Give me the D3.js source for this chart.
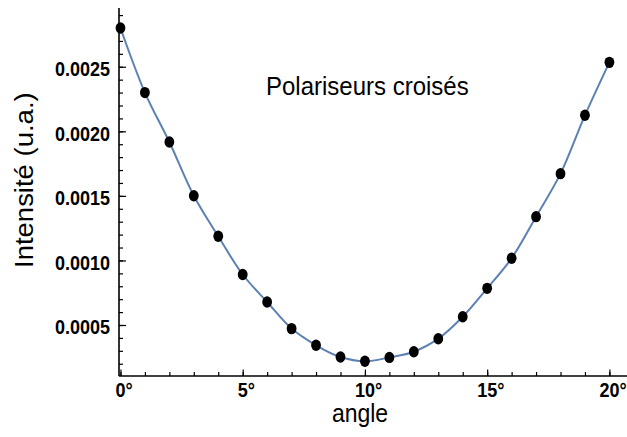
<!DOCTYPE html>
<html>
<head>
<meta charset="utf-8">
<script src="https://cdn.jsdelivr.net/npm/d3@7/dist/d3.min.js"></script>
<style>
  html, body { margin: 0; padding: 0; background: #fff; }
  svg { display: block; }
  text { font-family: "Liberation Sans", Arial, sans-serif; fill: #000; }
</style>
</head>
<body>
<svg id="chart" width="627" height="437"></svg>
<script>
// Measured intensity versus analyser angle (crossed polarisers)
const angles = [0, 1, 2, 3, 4, 5, 6, 7, 8, 9, 10, 11, 12, 13, 14, 15, 16, 17, 18, 19, 20];
const intensity = [0.00280, 0.00230, 0.001917, 0.001501, 0.001187, 0.000891, 0.000678,
  0.000472, 0.000343, 0.000252, 0.000219, 0.000249, 0.000293, 0.000394, 0.000564,
  0.000784, 0.001017, 0.001339, 0.001672, 0.002124, 0.002534];

const xMajorTicks = [0, 5, 10, 15, 20];
const xMinorTicks = d3.range(0, 21, 1);
const yMajorTicks = [0.0005, 0.0010, 0.0015, 0.0020, 0.0025];
const yMinorTicks = d3.range(2, 30).map(d => d / 10000);
const yTickLabels = ["0.0005", "0.0010", "0.0015", "0.0020", "0.0025"];

const title = "Polariseurs croisés";
const xLabel = "angle";
const yLabel = "Intensité (u.a.)";

const svg = d3.select("#chart");
const x = d3.scaleLinear().domain([-0.06, 20.72]).range([119, 627]);
const y = d3.scaleLinear().domain([0.000105, 0.002955]).range([376, 8]);
const vs = 1.1; // vertical text stretch

// axes (ticks point inwards)
const gx = svg.append("g").attr("transform", `translate(0,${y.range()[0]})`);
gx.call(d3.axisBottom(x).tickValues(xMinorTicks).tickSize(-4).tickFormat(""));
gx.call(g => g.append("g").call(d3.axisBottom(x).tickValues(xMajorTicks).tickSize(-6.5).tickFormat("")));
const gy = svg.append("g").attr("transform", `translate(${x.range()[0]},0)`);
gy.call(d3.axisLeft(y).tickValues(yMinorTicks).tickSize(-4).tickFormat(""));
gy.call(g => g.append("g").call(d3.axisLeft(y).tickValues(yMajorTicks).tickSize(-7).tickFormat("")));
svg.selectAll(".domain").remove();
svg.selectAll(".tick line").attr("stroke", "#000").attr("stroke-width", 1.2);

svg.append("line").attr("x1", x.range()[0]).attr("x2", x.range()[1])
  .attr("y1", y.range()[0]).attr("y2", y.range()[0]).attr("stroke", "#000").attr("stroke-width", 1.6);
svg.append("line").attr("x1", x.range()[0]).attr("x2", x.range()[0])
  .attr("y1", y.range()[0]).attr("y2", y.range()[1]).attr("stroke", "#000").attr("stroke-width", 1.6);

// x tick labels: the number is centred on the tick, the degree sign follows it
xMajorTicks.forEach(v => {
  const g = svg.append("g").attr("transform", `translate(${x(v)},397) scale(1,${vs})`);
  const num = g.append("text").attr("text-anchor", "middle")
    .style("font-size", "18px").style("font-weight", "bold").text(v);
  const w = num.node().getComputedTextLength();
  g.append("text").attr("x", w / 2).style("font-size", "18px").style("font-weight", "bold").text("°");
});

// y tick labels
yMajorTicks.forEach((v, i) => {
  svg.append("text").attr("text-anchor", "end")
    .attr("transform", `translate(110,${y(v) + 9.3}) scale(1,${vs})`)
    .style("font-size", "18px").style("font-weight", "bold").text(yTickLabels[i]);
});

// axis titles
svg.append("text").attr("text-anchor", "middle")
  .attr("transform", `translate(360,422) scale(1,${vs})`)
  .style("font-size", "23px").text(xLabel);
svg.append("text").attr("text-anchor", "start")
  .attr("transform", `translate(32.5,268) rotate(-90) scale(${vs},1)`)
  .style("font-size", "25px").text(yLabel);
svg.append("text")
  .attr("transform", `translate(266,95) scale(1,${vs})`)
  .style("font-size", "24px").text(title);

// smooth curve through the measurements
const pts = angles.map((a, i) => [a, intensity[i]]);
svg.append("path").datum(pts)
  .attr("fill", "none").attr("stroke", "#5E81B5").attr("stroke-width", 2)
  .attr("d", d3.line().x(d => x(d[0])).y(d => y(d[1])).curve(d3.curveCatmullRom.alpha(0.5)));

// measured points
svg.append("g").selectAll("ellipse").data(pts).join("ellipse")
  .attr("cx", d => x(d[0])).attr("cy", d => y(d[1]))
  .attr("rx", 4.9).attr("ry", 5.7).attr("fill", "#000");
</script>
</body>
</html>
